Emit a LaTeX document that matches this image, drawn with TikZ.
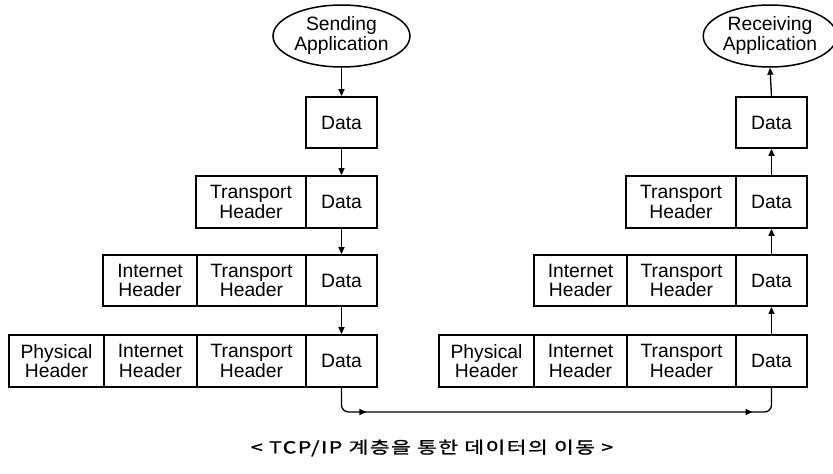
\documentclass[tikz,border=0pt]{standalone}
\usepackage{fontspec}
\setmainfont{Liberation Sans}
\newfontfamily\kofont[FakeStretch=1.3,LetterSpace=9,FakeBold=1.2]{Noto Sans CJK KR}
\usetikzlibrary{shapes.geometric,arrows.meta,decorations.markings}

% one header/data cell given by its left, right, top and bottom edges
\newcommand\cell[6]{%
  \node[cellbox, minimum width={#3pt-#2pt}, minimum height={#5pt-#4pt}]
    (#1) at ({(#2+#3)/2},{(#4+#5)/2}) {#6};}

\begin{document}
\begin{tikzpicture}[x=1pt,y=-1pt,
  cellbox/.style={draw, line width=1.8pt, rectangle, inner sep=0pt, align=center,
    font=\fontsize{19.3}{19.5}\selectfont},
  appnode/.style={draw, line width=1.5pt, ellipse, inner sep=0pt, align=center,
    font=\fontsize{19.3}{20}\selectfont},
  arr/.style={line width=1.3pt, -{Triangle[length=7pt,width=6pt]}},
  link/.style={line width=1.3pt, rounded corners=7pt,
    postaction={decorate},
    decoration={markings,
      mark=at position 46pt with {\arrow{Triangle[length=7pt,width=6pt]}},
      mark=at position -40pt with {\arrow{Triangle[length=7pt,width=6pt]}}}}
]
\useasboundingbox (0,0) rectangle (833,474);

% ---- sending side ----
\node[appnode, minimum width=137pt, minimum height=62pt] (sapp) at (341.5,36)
  {Sending\\Application};
\cell{sD1}{306}{377}{97}{148}{Data}
\cell{sT2}{196}{306}{176}{228}{Transport\\Header}
\cell{sD2}{306}{377}{176}{228}{Data}
\cell{sI3}{103}{197}{255}{306}{Internet\\Header}
\cell{sT3}{197}{306}{255}{306}{Transport\\Header}
\cell{sD3}{306}{377}{255}{306}{Data}
\cell{sP4}{9}{104}{335}{387}{Physical\\Header}
\cell{sI4}{104}{197}{335}{387}{Internet\\Header}
\cell{sT4}{197}{306}{335}{387}{Transport\\Header}
\cell{sD4}{306}{377}{335}{387}{Data}

% ---- receiving side ----
\node[appnode, minimum width=128pt, minimum height=62pt] (rapp) at (770,36)
  {Receiving\\Application};
\cell{rD1}{736}{807}{97}{148}{Data}
\cell{rT2}{626}{736}{176}{228}{Transport\\Header}
\cell{rD2}{736}{807}{176}{228}{Data}
\cell{rI3}{534}{627}{255}{306}{Internet\\Header}
\cell{rT3}{627}{736}{255}{306}{Transport\\Header}
\cell{rD3}{736}{807}{255}{306}{Data}
\cell{rP4}{439}{534}{335}{387}{Physical\\Header}
\cell{rI4}{534}{627}{335}{387}{Internet\\Header}
\cell{rT4}{627}{736}{335}{387}{Transport\\Header}
\cell{rD4}{736}{807}{335}{387}{Data}

% ---- going down the sending stack ----
\draw[arr] (sapp.south) -- (sD1.north);
\draw[arr] (sD1.south) -- (sD2.north);
\draw[arr] (sD2.south) -- (sD3.north);
\draw[arr] (sD3.south) -- (sD4.north);

% ---- across the physical link ----
\coordinate (bl) at (341.5,412);
\coordinate (br) at (771.5,412);
\draw[link] (sD4.south) -- (bl) -- (br) -- (rD4.south);

% ---- going up the receiving stack ----
\draw[arr] (rD4.north) -- (rD3.south);
\draw[arr] (rD3.north) -- (rD2.south);
\draw[arr] (rD2.north) -- (rD1.south);
\draw[arr] (rD1.north) -- (rapp.south);

% ---- caption ----
\node[font=\kofont\fontsize{16.5}{18}\selectfont] (cap) at (432,448)
  {< TCP/IP 계층을 통한 데이터의 이동 >};
\end{tikzpicture}
\end{document}
